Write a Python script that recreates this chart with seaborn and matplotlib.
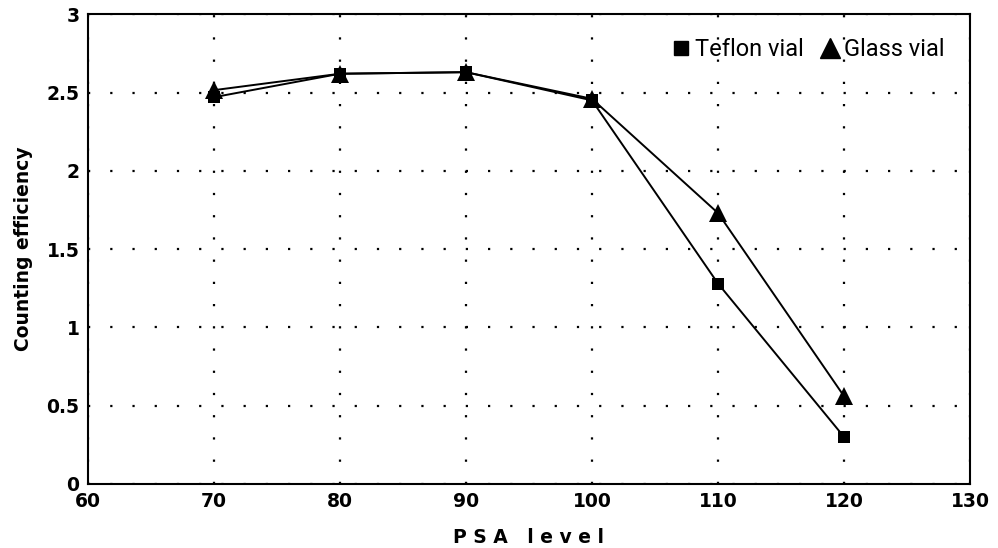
import matplotlib
matplotlib.use("Agg")
import matplotlib.pyplot as plt
import seaborn as sns
import pandas as pd
from matplotlib import font_manager
from matplotlib.lines import Line2D

psa_level = [70, 80, 90, 100, 110, 120]
teflon_vial = [2.47, 2.62, 2.63, 2.45, 1.28, 0.30]
glass_vial = [2.515, 2.62, 2.63, 2.46, 1.73, 0.56]
x_ticks = [60, 70, 80, 90, 100, 110, 120, 130]
y_ticks = [0, 0.5, 1, 1.5, 2, 2.5, 3]
y_tick_labels = ["0", "0.5", "1", "1.5", "2", "2.5", "3"]

df = pd.DataFrame({
    "PSA level": psa_level * 2,
    "Counting efficiency": teflon_vial + glass_vial,
    "Series": ["Teflon vial"] * len(psa_level) + ["Glass vial"] * len(psa_level),
})

sns.set_theme(style="white")
plt.rcParams['font.family'] = ['DejaVu Sans']
plt.rcParams['text.color'] = 'black'
plt.rcParams['axes.labelcolor'] = 'black'

names = {f.name for f in font_manager.fontManager.ttflist}
legend_family = ['Liberation Sans Narrow'] if 'Liberation Sans Narrow' in names else ['Roboto', 'DejaVu Sans']

fig = plt.figure(figsize=(9.98, 5.48), dpi=100)
ax = fig.add_axes([0.088, 0.117, 0.884, 0.857])

sns.lineplot(data=df, x="PSA level", y="Counting efficiency", hue="Series", style="Series",
             palette={"Teflon vial": "black", "Glass vial": "black"},
             markers={"Teflon vial": "s", "Glass vial": "^"},
             dashes={"Teflon vial": "", "Glass vial": ""},
             markersize=9, linewidth=1.4, markeredgewidth=0, ax=ax, legend=False)
for line in ax.lines:
    if line.get_marker() == "^":
        line.set_markersize(13)

ax.set_xlim(60, 130)
ax.set_ylim(0, 3)
ax.set_xticks(x_ticks)
ax.set_yticks(y_ticks)
ax.set_yticklabels(y_tick_labels)
ax.grid(True, color="black", linestyle=(0, (1, 9)), linewidth=1.6)
for s in ax.spines.values():
    s.set_color("black")
    s.set_linewidth(1.5)
ax.tick_params(direction="in", length=8, width=1.2, colors="black", labelsize=13.5, pad=6)
for lab in ax.get_xticklabels() + ax.get_yticklabels():
    lab.set_fontweight("bold")
ax.set_xlabel("P S A   l e v e l", fontsize=13.5, fontweight="bold", labelpad=12, color="black")
ax.set_ylabel("Counting efficiency", fontsize=13.5, fontweight="bold", labelpad=10, color="black")

handles = [Line2D([], [], color="black", marker="s", linestyle="none", markersize=10),
           Line2D([], [], color="black", marker="^", linestyle="none", markersize=15)]
leg = ax.legend(handles, ["Teflon vial", "Glass vial"], ncol=2, frameon=False,
                loc="upper right", bbox_to_anchor=(0.995, 0.995), handletextpad=0.1,
                columnspacing=0.6, handlelength=1.0,
                prop={"family": legend_family, "size": 17})
for t in leg.get_texts():
    t.set_color("black")

fig.savefig("out.png", dpi=100)
